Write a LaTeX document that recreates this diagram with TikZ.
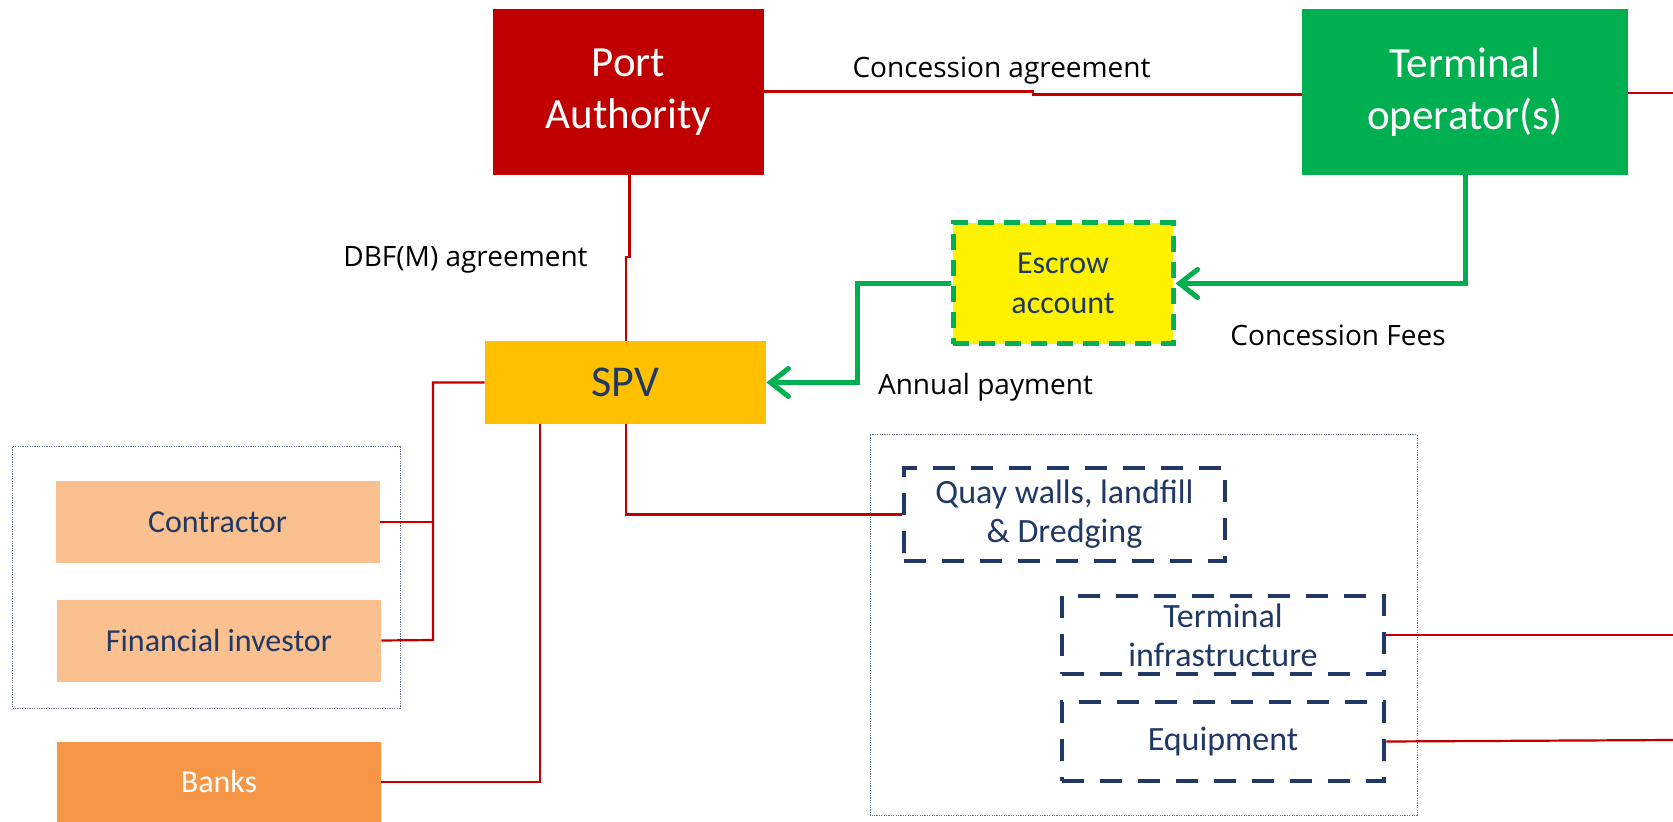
\documentclass[tikz,border=0pt]{standalone}
\usepackage{fontspec}
\setmainfont{Carlito}
\newfontfamily\labfont{Open Sans}
\usetikzlibrary{arrows.meta}
\definecolor{pared}{HTML}{C00000}
\definecolor{togreen}{HTML}{00B050}
\definecolor{spvyel}{HTML}{FFC000}
\definecolor{navy}{HTML}{1F3864}
\definecolor{lightor}{HTML}{FAC090}
\definecolor{darkor}{HTML}{F79646}
\tikzset{
  box/.style={rectangle, inner sep=0pt, align=center},
  bigbox/.style={box, text=white, font=\fontsize{21.5}{26}\selectfont},
  partybox/.style={box, fill=lightor, text=navy, minimum width=162pt, minimum height=41pt, font=\fontsize{16}{19}\selectfont},
  assetbox/.style={box, draw=navy, line width=2.4pt, dash pattern=on 11pt off 8pt, text=navy, minimum width=163pt, font=\fontsize{17}{19.5}\selectfont},
  groupbox/.style={draw=navy!70, line width=0.5pt, dash pattern=on 0.6pt off 0.6pt},
  redline/.style={draw=pared, line width=1.1pt},
  garrow/.style={draw=togreen, line width=2.5pt, -{Straight Barb[length=9pt,width=14pt,line cap=round]}},
  lab/.style={font=\labfont\fontsize{14}{17}\selectfont, text=black, inner sep=0pt}
}
\begin{document}
\begin{tikzpicture}[x=0.5pt,y=-0.5pt]
\path[fill=white] (0,0) rectangle (1673,822);
\useasboundingbox (0,0) rectangle (1673,822);

% group boxes
\draw[groupbox] (12,447) rectangle (400,708);
\draw[groupbox] (870,435) rectangle (1417,815);

% nodes
\node[bigbox, fill=pared, minimum width=135.5pt, minimum height=83pt] (PA) at (628.5,92) {Port\\Authority};
\node[bigbox, fill=togreen, minimum width=163pt, minimum height=83pt] (TO) at (1465,92) {Terminal\\operator(s)};
\node[box, fill=spvyel, text=navy, minimum width=140.5pt, minimum height=41.5pt, font=\fontsize{22}{26}\selectfont] (SPV) at (625.5,382.5) {SPV};
\node[box, fill=yellow, draw=togreen, line width=2.5pt, dash pattern=on 8pt off 5pt, text=navy, minimum width=110pt, minimum height=60.5pt, font=\fontsize{16}{20}\selectfont] (ESC) at (1063,283.5) {Escrow\\account};
\node[partybox] (CON) at (217.5,522) {Contractor};
\node[partybox] (FI) at (219,640.5) {Financial investor};
\node[partybox, fill=darkor, text=white, minimum height=40pt] (BNK) at (219,782) {Banks};
\node[assetbox, minimum width=160.5pt, minimum height=46.5pt] (QW) at (1064.5,514.5) {Quay walls, landfill\\\& Dredging};
\node[assetbox, minimum width=161pt, minimum height=39pt] (TI) at (1223,635) {Terminal\\infrastructure};
\node[assetbox, minimum width=161pt, minimum height=39.5pt] (EQ) at (1223,741.5) {Equipment};

% free ends
\coordinate (toR) at (1673,93);
\coordinate (tiR) at (1673,635);
\coordinate (eqR) at (1673,740);
\coordinate (jL) at (433,640);
\coordinate (jG) at (857,283.5);

% red connectors
\draw[redline] (PA.east |- 0,91.5) -- (1033,91.5) -- (1033,94.5) -- (TO.west |- 0,94.5);
\draw[redline] (TO.east |- 0,93) -- (toR);
\draw[redline] (PA.south -| 629.5,0) -- (629.5,257) -- (626,257) -- (SPV.north -| 626,0);
\draw[redline] (SPV.west) -| (jL) -- (FI.east);
\draw[redline] (CON.east) -- (CON.east -| jL);
\draw[redline] (SPV.south -| 540,0) |- (BNK.east);
\draw[redline] (SPV.south -| 626,0) |- (QW.west);
\draw[redline] (TI.east) -- (tiR);
\draw[redline] (EQ.east) -- (eqR);

% green arrows
\draw[garrow] (TO.south) |- (ESC.east);
\draw[garrow] (ESC.west) -- (jG) |- (SPV.east);

% labels
\node[lab] (l1) at (1001.5,71) {Concession agreement};
\node[lab] (l2) at (465.5,260) {DBF(M) agreement};
\node[lab] (l3) at (1338,335) {Concession Fees};
\node[lab] (l4) at (985.5,387) {Annual payment};
\end{tikzpicture}
\end{document}
